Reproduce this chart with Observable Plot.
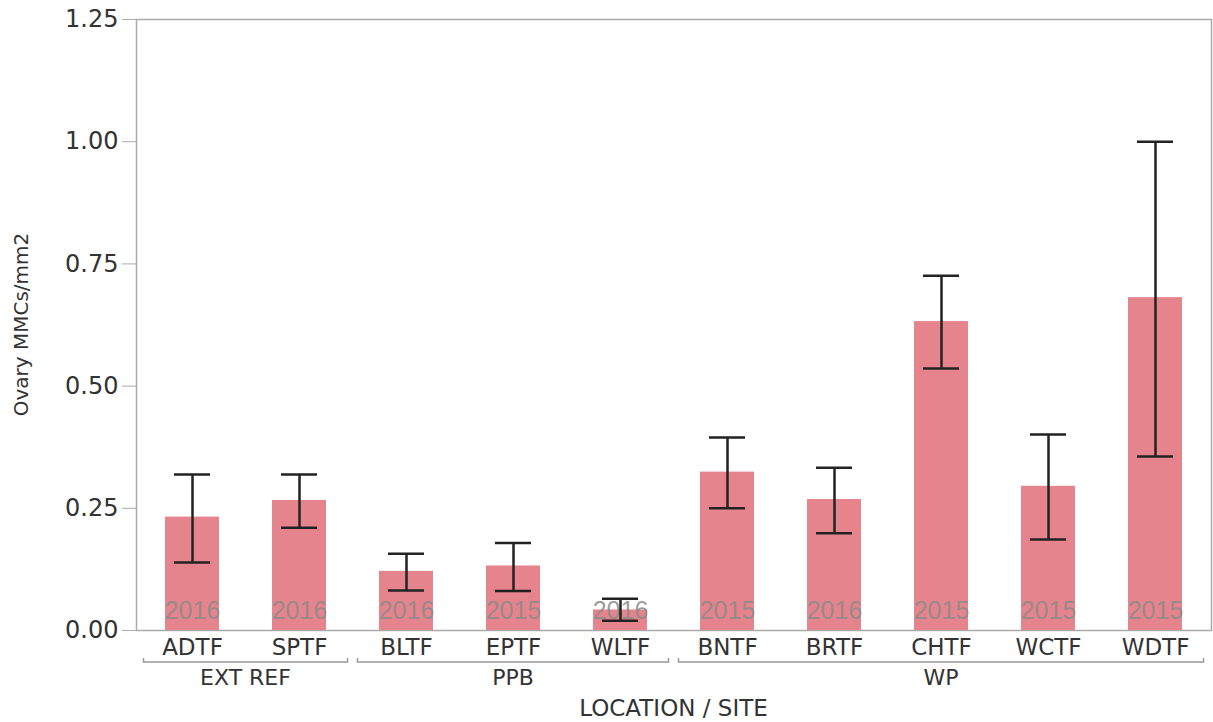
<!DOCTYPE html>
<html><head><meta charset="utf-8">
<script src="https://cdn.jsdelivr.net/npm/d3@7"></script>
<script src="https://cdn.jsdelivr.net/npm/@observablehq/plot@0.6"></script>
<style>body{margin:0;background:#fff;} svg{display:block;}</style>
</head><body><div id="chart"></div>
<script>
const sites = ["ADTF","SPTF","BLTF","EPTF","WLTF","BNTF","BRTF","CHTF","WCTF","WDTF"];
const locations = ["EXT REF","EXT REF","PPB","PPB","PPB","WP","WP","WP","WP","WP"];
const years = ["2016","2016","2016","2015","2016","2015","2016","2015","2015","2015"];
const means = [0.232,0.266,0.121,0.132,0.042,0.324,0.268,0.632,0.295,0.681];
const errLow = [0.139,0.210,0.082,0.081,0.020,0.250,0.199,0.536,0.186,0.356];
const errHigh = [0.319,0.319,0.157,0.179,0.065,0.395,0.333,0.726,0.401,1.000];
const yTicks = [0,0.25,0.5,0.75,1,1.25];
const groups = ["EXT REF","PPB","WP"];
const yLabel = "Ovary MMCs/mm2";
const xLabel = "LOCATION / SITE";

const FONT = "DejaVu Sans";
const data = sites.map((s,i)=>({site:s, location:locations[i], year:years[i], mean:means[i], lo:errLow[i], hi:errHigh[i]}));

function annotations(index, scales, values, dims) {
  const x = scales.x;
  const bw = typeof x.bandwidth === "function" ? x.bandwidth() : x.bandwidth;
  const step = x(sites[1]) - x(sites[0]);
  const ext = (step - bw) / 2 - 5;
  const g = d3.create("svg:g").attr("font-family", FONT).attr("fill", "#333");
  const yLine = dims.height - dims.marginBottom + 32;
  for (const grp of groups) {
    const members = sites.filter((s, i) => locations[i] === grp);
    const x1 = x(members[0]) - ext, x2 = x(members[members.length - 1]) + bw + ext;
    g.append("path")
      .attr("d", `M${x1},${yLine - 4}V${yLine}H${x2}V${yLine - 4}`)
      .attr("fill", "none").attr("stroke", "#999").attr("stroke-width", 1.5);
    g.append("text").attr("x", (x1 + x2) / 2).attr("y", yLine + 23)
      .attr("text-anchor", "middle").attr("font-size", 22).text(grp);
  }
  const cx = (dims.marginLeft + dims.width - dims.marginRight) / 2;
  g.append("text").attr("x", cx).attr("y", dims.height - 6)
    .attr("text-anchor", "middle").attr("font-size", 23).text(xLabel);
  const cy = (dims.marginTop + dims.height - dims.marginBottom) / 2;
  g.append("text").attr("transform", `translate(22,${cy}) rotate(-90)`)
    .attr("text-anchor", "middle").attr("dominant-baseline", "middle")
    .attr("font-size", 20).text(yLabel);
  return g.node();
}

const chart = Plot.plot({
  width: 1213,
  height: 722,
  marginLeft: 136,
  marginRight: 2,
  marginTop: 19,
  marginBottom: 92,
  style: {fontFamily: FONT, color: "#333", background: "#fff"},
  x: {type: "band", domain: sites, paddingInner: 0.5, paddingOuter: 0.25, label: null},
  y: {domain: [0, 1.25], label: null},
  marks: [
    Plot.frame({stroke: "#aaa", strokeWidth: 1.5}),
    Plot.barY(data, {x: "site", y: "mean", fill: "#e5848c"}),
    Plot.text(data, {x: "site", frameAnchor: "bottom", dy: -12, text: "year", fill: "#8a8a8a", fillOpacity: 0.85, fontSize: 25, fontFamily: "Liberation Sans"}),
    Plot.ruleX(data, {x: "site", y1: "lo", y2: "hi", stroke: "#222", strokeWidth: 2.5}),
    Plot.tickY(data, {x: "site", y: "lo", stroke: "#222", strokeWidth: 2.5, insetLeft: 9, insetRight: 9}),
    Plot.tickY(data, {x: "site", y: "hi", stroke: "#222", strokeWidth: 2.5, insetLeft: 9, insetRight: 9}),
    Plot.axisY({ticks: yTicks, tickFormat: d3.format(".2f"), tickSize: 14, tickPadding: 4, fontSize: 24, stroke: "#aaa", fill: "#333", label: null}),
    Plot.axisX({tickSize: 0, tickPadding: 8, fontSize: 23, fill: "#333", label: null}),
    annotations
  ]
});
document.getElementById("chart").append(chart);
</script>
</body></html>
